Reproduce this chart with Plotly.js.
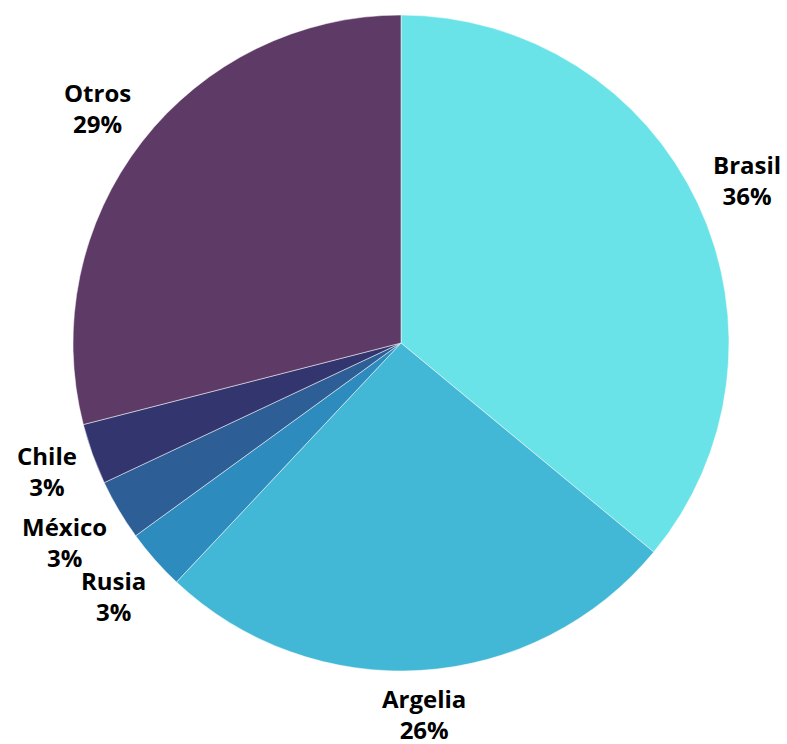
<!DOCTYPE html>
<html><head><meta charset="utf-8">
<script src="https://cdn.plot.ly/plotly-3.0.1.min.js"></script>
<style>html,body{margin:0;padding:0;background:#fff}#c{width:787px;height:744px}</style>
</head><body><div id="c"></div>
<script>
const labels = ["Brasil","Argelia","Rusia","México","Chile","Otros"];
const values = [36, 26, 3, 3, 3, 29];
const colors = ["#69E3E8","#43B8D6","#2E8BBE","#2E5E96","#33366E","#5E3A66"];

const fontSize = 24;
const pieSizePx = 656;   // plot area (square) side in px
const gapPx = 10;        // gap between pie edge and nearest side of label block

const ctx = document.createElement("canvas").getContext("2d");
ctx.font = "bold " + fontSize + "px 'Open Sans'";

const total = values.reduce((a, b) => a + b, 0);
let cum = 0;
const annotations = labels.map((lab, i) => {
  const mid = (cum + values[i] / 2) / total * 2 * Math.PI;
  cum += values[i];
  const pct = Math.round(values[i] / total * 100) + "%";
  const w = Math.max(ctx.measureText(lab).width, ctx.measureText(pct).width);
  const h = 2 * 1.3 * fontSize;
  const sx = Math.sin(mid), sy = Math.cos(mid);
  const halfExt = Math.abs(sx) * w / 2 + Math.abs(sy) * h / 2;
  const d = pieSizePx / 2 + gapPx + halfExt;
  return {
    xref: "paper", yref: "paper",
    x: 0.5 + d * sx / pieSizePx,
    y: 0.5 + d * sy / pieSizePx,
    xanchor: "center", yanchor: "middle",
    text: lab + "<br>" + pct,
    showarrow: false,
    font: {family: "Open Sans", size: fontSize, color: "#000", weight: "bold"}
  };
});

Plotly.newPlot("c", [{
  type: "pie",
  labels: labels,
  values: values,
  sort: false,
  direction: "clockwise",
  rotation: 0,
  marker: {colors: colors, line: {color: "#ffffff", width: 0.5}},
  textinfo: "none",
  automargin: false,
  hoverinfo: "none"
}], {
  width: 787, height: 744,
  showlegend: false,
  margin: {l: 73, r: 58, t: 15, b: 73, autoexpand: false},
  paper_bgcolor: "#fff",
  annotations: annotations,
  font: {family: "Open Sans", size: fontSize, color: "#000", weight: "bold"}
}, {displayModeBar: false, staticPlot: true});
</script></body></html>
